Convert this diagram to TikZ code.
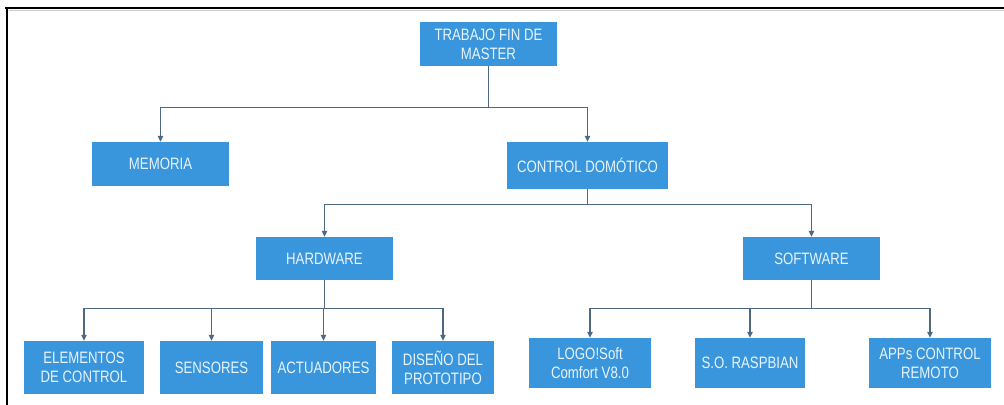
\documentclass[tikz,border=0pt]{standalone}
\usepackage{fontspec}
\setmainfont[FakeStretch=0.8]{Liberation Sans}
\usetikzlibrary{arrows.meta}
\definecolor{boxblue}{RGB}{58,150,220}
\definecolor{boxtext}{RGB}{232,243,252}
\definecolor{linegray}{RGB}{77,104,130}

\begin{document}
\begin{tikzpicture}[x=0.03cm, y=-0.03cm,
  box/.style={rectangle, fill=boxblue, text=boxtext, inner sep=0pt, align=center,
    font=\fontsize{14.1}{16}\selectfont},
  arr/.style={draw=linegray, line width=1pt, -{Triangle[length=5pt,width=4.5pt]}},
  frame/.style={line width=2.2pt, black}]
\useasboundingbox (0,0) rectangle (1004,405);
% frame, top and left only
\draw[frame] (5,8) -- (1004,8);
\draw[frame] (7,7) -- (7,405);
\draw[gray!40, line width=0.5pt] (9,10) -- (1004,10);
% boxes
\node (tfm) at (488.5,44) [box, minimum width=137*0.03cm, minimum height=44*0.03cm] {TRABAJO FIN DE\\MASTER};
\node (mem) at (160.5,164) [box, minimum width=137*0.03cm, minimum height=44*0.03cm] {MEMORIA};
\node (ctrl) at (587.5,165.5) [box, minimum width=161*0.03cm, minimum height=47*0.03cm] {CONTROL DOMÓTICO};
\node (hw) at (324.5,258.5) [box, minimum width=137*0.03cm, minimum height=43*0.03cm] {HARDWARE};
\node (sw) at (811.5,258.5) [box, minimum width=137*0.03cm, minimum height=43*0.03cm] {SOFTWARE};
\node (ec) at (84,367.5) [box, minimum width=120*0.03cm, minimum height=53*0.03cm] {ELEMENTOS\\DE CONTROL};
\node (sens) at (211.5,367.5) [box, minimum width=103*0.03cm, minimum height=53*0.03cm] {SENSORES};
\node (act) at (323.5,367.5) [box, minimum width=105*0.03cm, minimum height=53*0.03cm] {ACTUADORES};
\node (dis) at (443,367.5) [box, minimum width=102*0.03cm, minimum height=53*0.03cm] {DISEÑO DEL\\PROTOTIPO};
\node (logo) at (590,363) [box, minimum width=122*0.03cm, minimum height=50*0.03cm] {LOGO!Soft\\Comfort V8.0};
\node (so) at (750,363) [box, minimum width=110*0.03cm, minimum height=50*0.03cm] {S.O. RASPBIAN};
\node (apps) at (930,363) [box, minimum width=122*0.03cm, minimum height=50*0.03cm] {APPs CONTROL\\REMOTO};
% connectors
\draw[arr] (tfm.south) -- ++(0,41) -| (mem.north);
\draw[arr] (tfm.south) -- ++(0,41) -| (ctrl.north);
\draw[arr] (ctrl.south) -- ++(0,15) -| (hw.north);
\draw[arr] (ctrl.south) -- ++(0,15) -| (sw.north);
\draw[arr] (hw.south) -- ++(0,28) -| (ec.north);
\draw[arr] (hw.south) -- ++(0,28) -| (sens.north);
\draw[arr] (hw.south) -- ++(0,28) -| (act.north);
\draw[arr] (hw.south) -- ++(0,28) -| (dis.north);
\draw[arr] (sw.south) -- ++(0,28) -| (logo.north);
\draw[arr] (sw.south) -- ++(0,28) -| (so.north);
\draw[arr] (sw.south) -- ++(0,28) -| (apps.north);
\end{tikzpicture}
\end{document}
